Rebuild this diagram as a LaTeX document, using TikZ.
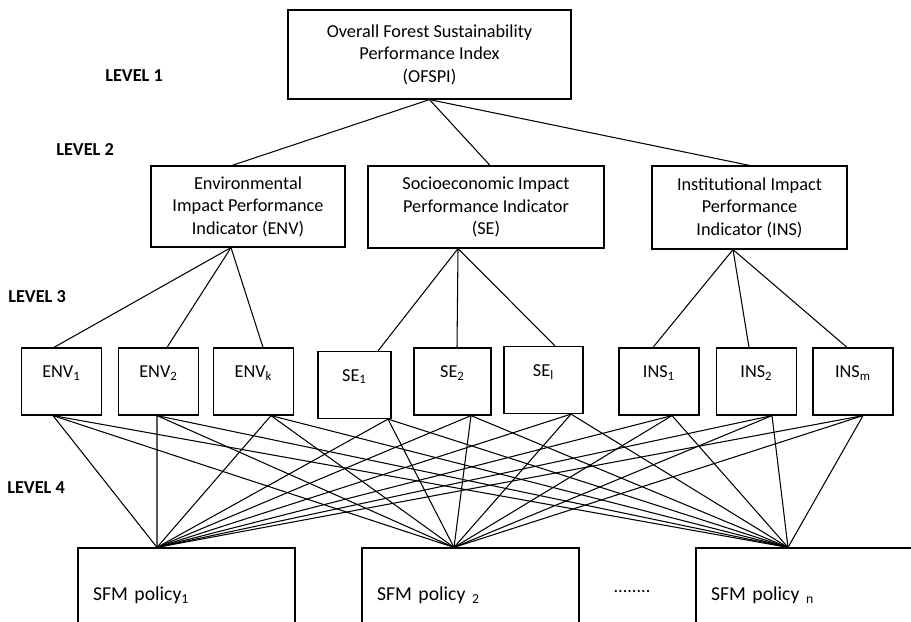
\documentclass[tikz,border=0pt]{standalone}
\usepackage{fontspec}
\setmainfont{Carlito}
\usetikzlibrary{positioning}

\begin{document}
\begin{tikzpicture}
  [x=0.02cm, y=-0.02cm,
  every node/.style={font=\fontsize{10.4}{12.8}\selectfont},
  box/.style={draw, line width=0.7pt, align=center, inner sep=0pt},
  leaf/.style={draw, line width=0.7pt, inner sep=0pt, minimum width=1.6cm,
    minimum height=1.34cm, text height=7pt, text depth=11.2pt},
  policy/.style={draw, line width=0.7pt, inner xsep=0.3cm, text width=3.74cm,
    minimum height=1.88cm, align=left, font=\fontsize{11.2}{13}\selectfont},
  lvl/.style={anchor=west, inner sep=0pt, font=\fontsize{10.4}{12.8}\selectfont\bfseries},
  link/.style={line width=0.6pt}]
  \useasboundingbox (0,0) rectangle (911,621);

  % levels
  \node[lvl] (lvl1) at (105,76) {LEVEL 1};
  \node[lvl] (lvl2) at (56,150) {LEVEL 2};
  \node[lvl] (lvl3) at (8,297) {LEVEL 3};
  \node[lvl] (lvl4) at (7,488) {LEVEL 4};

  % index and indicators
  \node[box, minimum width=5.66cm, minimum height=1.78cm] (ofspi) at (429.5,54.5)
    {Overall Forest Sustainability\\Performance Index\\(OFSPI)};
  \node[box, minimum width=3.88cm, minimum height=1.62cm] (env) at (248,206.5)
    {Environmental\\Impact Performance\\Indicator (ENV)};
  \node[box, minimum width=4.72cm, minimum height=1.64cm] (se) at (486,207)
    {Socioeconomic Impact\\Performance Indicator\\(SE)};
  \node[box, minimum width=3.9cm, minimum height=1.66cm] (ins) at (749.5,207.5)
    {Institutional Impact\\Performance\\Indicator (INS)};

  % sub-indicators
  \node[leaf] (env1) at (61.5,381.5) {ENV\textsubscript{1}};
  \node[leaf] (env2) at (158.5,381.5) {ENV\textsubscript{2}};
  \node[leaf] (envk) at (253.5,381.5) {ENV\textsubscript{k}};
  \node[leaf, minimum width=1.46cm] (se1) at (354.5,385) {SE\textsubscript{1}};
  \node[leaf, minimum width=1.54cm] (se2) at (452.5,381.5) {SE\textsubscript{2}};
  \node[leaf, minimum width=1.58cm] (sel) at (543.5,380) {SE\textsubscript{l}};
  \node[leaf] (ins1) at (659,381.5) {INS\textsubscript{1}};
  \node[leaf] (ins2) at (756.5,381.5) {INS\textsubscript{2}};
  \node[leaf] (insm) at (853,381.5) {INS\textsubscript{m}};

  % policies
  \node[policy] (p1) at (186.5,595) {SFM policy\textsubscript{1}};
  \node[policy] (p2) at (470.5,595) {SFM policy \textsubscript{2}};
  \node[policy] (pn) at (804.5,595) {SFM policy \textsubscript{n}};
  \node (dots) at (632,592) {........};
  \coordinate (p1-in) at ([xshift=-0.59cm]p1.north);
  \coordinate (p2-in) at ([xshift=-0.33cm]p2.north);
  \coordinate (pn-in) at ([xshift=-0.33cm]pn.north);

  % level 1 -- level 2
  \draw[link] (ofspi.south) -- ([xshift=-0.32cm]env.north);
  \draw[link] (ofspi.south) -- ([xshift=0.08cm]se.north);
  \draw[link] (ofspi.south) -- (ins.north);

  % level 2 -- level 3
  \foreach \n/\dx in {env1/-0.15, env2/0.17, envk/0.19}
    \draw[link] ([xshift=-0.34cm]env.south) -- ([xshift=\dx cm]\n.north);
  \foreach \n/\dx in {se1/0.47, se2/0.09, sel/0.23}
    \draw[link] ([xshift=-0.56cm]se.south) -- ([xshift=\dx cm]\n.north);
  \foreach \n/\dx in {ins1/-0.12, ins2/-0.15, insm/-0.12}
    \draw[link] ([xshift=-0.33cm]ins.south) -- ([xshift=\dx cm]\n.north);

  % level 3 -- level 4
  \foreach \n/\dx in {env1/-0.17, env2/-0.03, envk/0.35, se1/0.67, se2/0.37,
      sel/0.55, ins1/0.26, ins2/0.31, insm/0.2}
    \foreach \p in {p1,p2,pn}
      \draw[link] ([xshift=\dx cm]\n.south) -- (\p-in);
\end{tikzpicture}
\end{document}
